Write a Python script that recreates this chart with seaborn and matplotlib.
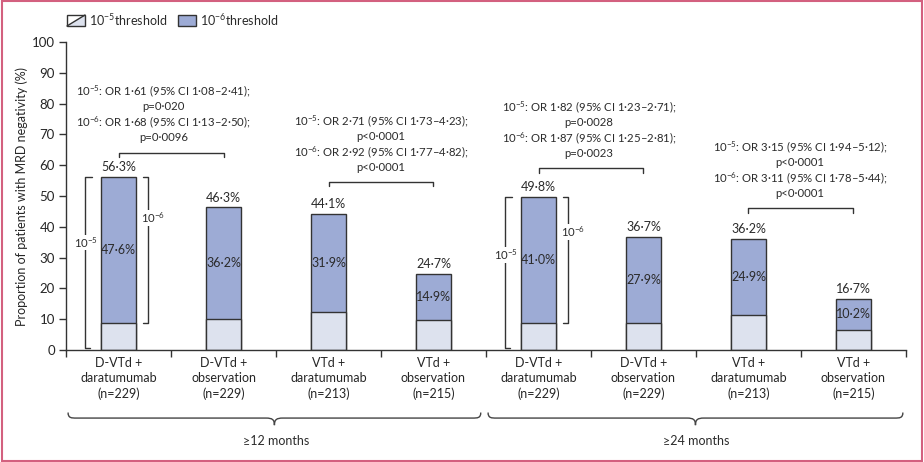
import numpy as np
import pandas as pd
import seaborn as sns
import matplotlib.pyplot as plt
from matplotlib.patches import Rectangle, Polygon, PathPatch
from matplotlib.path import Path
from matplotlib.lines import Line2D

# data
arms = ["D-VTd +\ndaratumumab\n(n=229)", "D-VTd +\nobservation\n(n=229)",
        "VTd +\ndaratumumab\n(n=213)", "VTd +\nobservation\n(n=215)"] * 2
neg_1e5 = [56.3, 46.3, 44.1, 24.7, 49.8, 36.7, 36.2, 16.7]
neg_1e6 = [47.6, 36.2, 31.9, 14.9, 41.0, 27.9, 24.9, 10.2]
timepoints = ["≥12 months", "≥24 months"]
pairs = [(0, 1), (2, 3), (4, 5), (6, 7)]
or_lines = [
    ["10$^{-5}$: OR 1·61 (95% CI 1·08–2·41);", "p=0·020",
     "10$^{-6}$: OR 1·68 (95% CI 1·13–2·50);", "p=0·0096"],
    ["10$^{-5}$: OR 2·71 (95% CI 1·73–4·23);", "p<0·0001",
     "10$^{-6}$: OR 2·92 (95% CI 1·77–4·82);", "p<0·0001"],
    ["10$^{-5}$: OR 1·82 (95% CI 1·23–2·71);", "p=0·0028",
     "10$^{-6}$: OR 1·87 (95% CI 1·25–2·81);", "p=0·0023"],
    ["10$^{-5}$: OR 3·15 (95% CI 1·94–5·12);", "p<0·0001",
     "10$^{-6}$: OR 3·11 (95% CI 1·78–5·44);", "p<0·0001"],
]

# layout
bracket_y = [64, 54.5, 59, 46]
text_x = [0.43, 2.5, 4.48, 6.49]
dark = "#9dabd5"
light = "#dde2ee"
edge = "#333333"
txt = "#2b2b2b"

sns.set_theme(style="ticks")
plt.rcParams["font.family"] = ["Lato", "DejaVu Sans"]
plt.rcParams["mathtext.fontset"] = "custom"
plt.rcParams["mathtext.rm"] = "Lato"
plt.rcParams["mathtext.default"] = "regular"
plt.rcParams["text.color"] = txt
fs = 9
afs = 8.2

fig = plt.figure(figsize=(9.24, 4.62), dpi=100)
ax = fig.add_axes([66 / 924, 1 - 350 / 462, 840 / 924, 308 / 462])

df = pd.DataFrame({"pos": range(8), "neg5": neg_1e5,
                   "base": [a - b for a, b in zip(neg_1e5, neg_1e6)]})
sns.barplot(data=df, x="pos", y="neg5", color=dark, saturation=1, width=0.33,
            edgecolor=edge, linewidth=1, errorbar=None, ax=ax)
sns.barplot(data=df, x="pos", y="base", color=light, saturation=1, width=0.33,
            edgecolor=edge, linewidth=1, errorbar=None, ax=ax)

ax.set_xlim(-0.5, 7.5)
ax.set_ylim(0, 100)
ax.set_yticks(range(0, 101, 10))
ax.tick_params(axis="y", labelsize=fs + 0.5, length=5, width=1, color=edge, pad=3)
ax.set_xticks(range(8))
ax.set_xticklabels(arms, fontsize=fs)
for lab in ax.get_xticklabels():
    lab.set_linespacing(1.3)
ax.tick_params(axis="x", length=0, pad=5)
ax.set_xticks(np.arange(-0.5, 8, 1), minor=True)
ax.tick_params(axis="x", which="minor", length=5, width=1, color=edge)
ax.set_xlabel("")
ax.set_ylabel("Proportion of patients with MRD negativity (%)", fontsize=fs)
ax.yaxis.set_label_coords(-0.045, 0.5)
sns.despine(ax=ax)
for s in ["left", "bottom"]:
    ax.spines[s].set_color(edge)
    ax.spines[s].set_linewidth(1)

def pct(v):
    return f"{v:.1f}%".replace(".", "·")

for i, (tot, d6) in enumerate(zip(neg_1e5, neg_1e6)):
    base = tot - d6
    ax.text(i, tot + 1.2, pct(tot), ha="center", va="bottom", fontsize=fs)
    ax.text(i, base + d6 / 2, pct(d6), ha="center", va="center", fontsize=fs)

# threshold brackets on the first bar of each timepoint
for i in [0, 4]:
    tot = neg_1e5[i]
    base = tot - neg_1e6[i]
    xl = i - 0.32
    ax.plot([xl + 0.065, xl, xl, xl + 0.05], [tot, tot, 0.6, 0.6], color=edge, lw=1, clip_on=False)
    ax.text(xl + 0.01, tot * 0.62, "10$^{-5}$", ha="center", va="center", fontsize=afs,
            bbox=dict(facecolor="white", edgecolor="none", pad=0.5))
    xr = i + 0.28
    ax.plot([xr - 0.05, xr, xr, xr - 0.05], [tot, tot, base, base], color=edge, lw=1)
    ax.text(xr + 0.05, base + 0.72 * neg_1e6[i], "10$^{-6}$", ha="center", va="center",
            fontsize=afs, bbox=dict(facecolor="white", edgecolor="none", pad=0.5))

# comparison brackets with odds ratios
unit = 3.08
for (a, b), yb, tx, lines in zip(pairs, bracket_y, text_x, or_lines):
    ax.plot([a, a, b, b], [yb - 1.4, yb, yb, yb - 1.4], color=edge, lw=1)
    for k, line in enumerate(lines):
        yy = yb + (15 + 15.5 * (3 - k)) / unit
        ax.text(tx, yy, line, ha="center", va="center", fontsize=afs)

# braces under the arms
def brace(x0, x1, ytip=-20.3, yh=-22.1, ypk=-24.4):
    xm = (x0 + x1) / 2
    verts = [(x0, ytip), (x0, yh), (x0 + 0.03, yh), (x0 + 0.08, yh),
             (xm - 0.08, yh),
             (xm - 0.02, yh), (xm, yh - 0.5), (xm, ypk),
             (xm, yh - 0.5), (xm + 0.02, yh), (xm + 0.08, yh),
             (x1 - 0.08, yh),
             (x1 - 0.03, yh), (x1, yh), (x1, ytip)]
    codes = [Path.MOVETO, Path.CURVE4, Path.CURVE4, Path.CURVE4, Path.LINETO,
             Path.CURVE4, Path.CURVE4, Path.CURVE4, Path.CURVE4, Path.CURVE4, Path.CURVE4,
             Path.LINETO, Path.CURVE4, Path.CURVE4, Path.CURVE4]
    ax.add_patch(PathPatch(Path(verts, codes), facecolor="none", edgecolor="#444444",
                           lw=1, clip_on=False))

brace(-0.48, 3.45)
brace(3.52, 7.47)
for j, tp in enumerate(timepoints):
    ax.text(1.5 + 4 * j, -29.5, tp, ha="center", va="center", fontsize=fs)

# legend drawn by hand (diagonal split swatch)
def px(x, y):
    return (x / 924, 1 - y / 462)

x0, x1, y0, y1 = 67, 85, 26, 15
fig.add_artist(Rectangle(px(x0, y0), 18 / 924, 11 / 462, transform=fig.transFigure,
                         facecolor=light, edgecolor="none"))
fig.add_artist(Polygon([px(x0, y0), px(x0, y1), px(x1, y1)], closed=True,
                       transform=fig.transFigure, facecolor="white", edgecolor="none"))
fig.add_artist(Line2D([x0 / 924, x1 / 924], [1 - y0 / 462, 1 - y1 / 462],
                      transform=fig.transFigure, color=edge, lw=1))
fig.add_artist(Rectangle(px(x0, y0), 18 / 924, 11 / 462, transform=fig.transFigure,
                         facecolor="none", edgecolor=edge, lw=1))
fig.text(89 / 924, 1 - 20.5 / 462, "10$^{-5}$threshold", ha="left", va="center", fontsize=fs)
fig.add_artist(Rectangle(px(178, y0), 18 / 924, 11 / 462, transform=fig.transFigure,
                         facecolor=dark, edgecolor=edge, lw=1))
fig.text(200 / 924, 1 - 20.5 / 462, "10$^{-6}$threshold", ha="left", va="center", fontsize=fs)

# outer frame
fig.add_artist(Rectangle((0.002, 0.003), 0.996, 0.994, transform=fig.transFigure,
                         facecolor="none", edgecolor="#d3607f", lw=1.5))

fig.savefig("out.png", dpi=100)
